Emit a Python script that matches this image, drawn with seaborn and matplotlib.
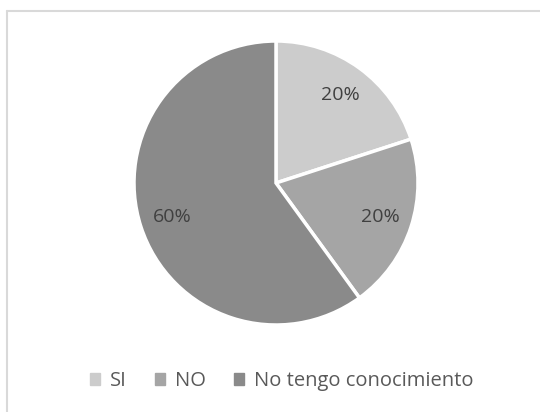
import matplotlib
matplotlib.use("Agg")
import matplotlib.pyplot as plt
from matplotlib.lines import Line2D
import seaborn as sns

categories = ["SI", "NO", "No tengo conocimiento"]
values = [20, 20, 60]
colors = ["#cccccc", "#a5a5a5", "#8a8a8a"]

sns.set_theme(style="white")
plt.rcParams['font.family'] = ['Open Sans', 'DejaVu Sans']

fig = plt.figure(figsize=(5.4, 4.12), dpi=100)
ax = fig.add_axes([0, 0, 1, 1])
ax.set_xlim(0, 540)
ax.set_ylim(412, 0)
ax.axis("off")

# chart border (top and left visible)
fig.add_artist(Line2D([7/540, 1], [1 - 11/412, 1 - 11/412], color="#d9d9d9", lw=1.5))
fig.add_artist(Line2D([7/540, 7/540], [1 - 11/412, 0], color="#d9d9d9", lw=1.5))

pax = fig.add_axes([(276 - 142) / 540, 1 - (183 + 142) / 412, 284 / 540, 284 / 412])
wedges, texts, autotexts = pax.pie(
    values, colors=colors, startangle=90, counterclock=False,
    autopct=lambda p: f"{p:.0f}%", pctdistance=0.77,
    wedgeprops=dict(edgecolor="white", linewidth=2.5),
    textprops=dict(color="#404040", fontsize=14),
)
pax.set_xlim(-1, 1)
pax.set_ylim(-1, 1)
pax.set_aspect("equal")
pax.axis("off")

handles = [plt.Rectangle((0, 0), 1, 1, color=c) for c in colors]
fig.legend(handles, categories, loc="center", bbox_to_anchor=(282 / 540, 1 - 381 / 412),
           ncol=3, frameon=False, fontsize=14.5, handlelength=0.5, handleheight=0.5,
           handletextpad=0.5, columnspacing=1.4, labelcolor="#595959")

fig.savefig("out.png", dpi=100)
